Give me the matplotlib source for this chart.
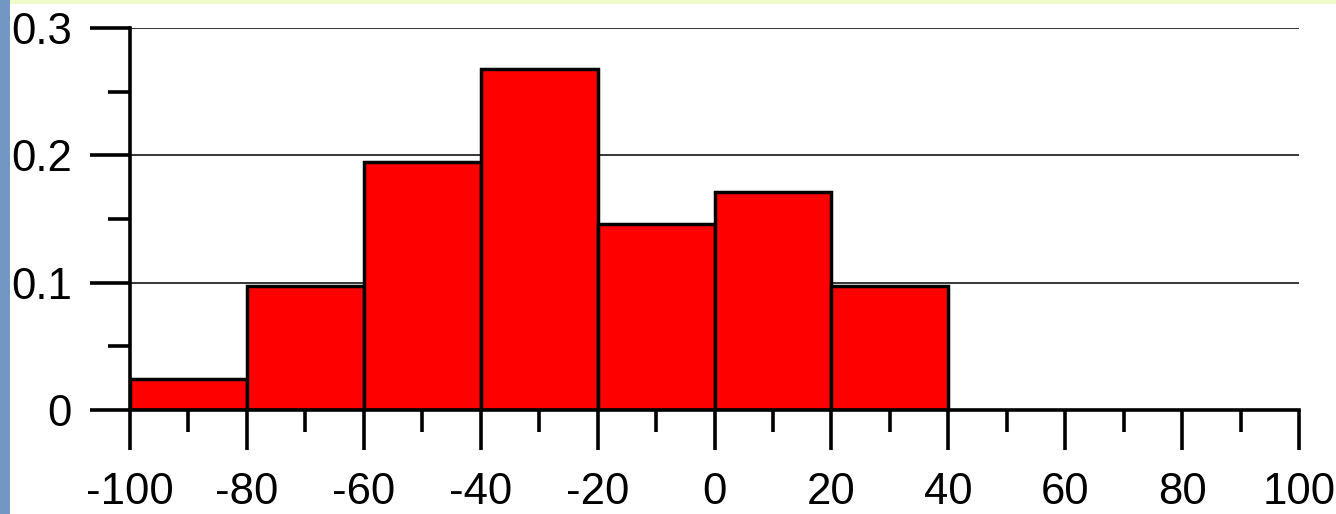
import matplotlib
matplotlib.use("Agg")
import matplotlib.pyplot as plt
from matplotlib.patches import Rectangle
from matplotlib.ticker import MultipleLocator

bin_edges = [-100, -80, -60, -40, -20, 0, 20, 40]
rel_freq = [0.0244, 0.0976, 0.195, 0.268, 0.146, 0.171, 0.0976]
x_ticks = [-100, -80, -60, -40, -20, 0, 20, 40, 60, 80, 100]
y_ticks = [0, 0.1, 0.2, 0.3]
y_tick_labels = ["0", "0.1", "0.2", "0.3"]

plt.rcParams['font.family'] = ['Liberation Sans', 'DejaVu Sans']

W, H = 1336, 514
fig = plt.figure(figsize=(W / 100, H / 100), dpi=100)
fig.patch.set_facecolor("white")

# decorative strips
fig.patches.append(Rectangle((0, 0), 10 / W, 1, transform=fig.transFigure,
                             facecolor="#7297c2", edgecolor="none", zorder=0))
fig.patches.append(Rectangle((10 / W, 1 - 4 / H), 1, 4 / H, transform=fig.transFigure,
                             facecolor="#eefbc8", edgecolor="none", zorder=0))

ax = fig.add_axes([130 / W, 104 / H, (1299 - 130) / W, (410 - 28) / H])
ax.set_xlim(-100, 100)
ax.set_ylim(0, 0.3)

lefts = bin_edges[:-1]
widths = [bin_edges[i + 1] - bin_edges[i] for i in range(len(lefts))]
ax.bar(lefts, rel_freq, width=widths, align="edge", color="#ff0000",
       edgecolor="black", linewidth=2.5, zorder=3)

for yv in y_ticks[1:]:
    ax.axhline(yv, color="black", linewidth=1.1, zorder=1)

for s in ["top", "right"]:
    ax.spines[s].set_visible(False)
for s in ["left", "bottom"]:
    ax.spines[s].set_linewidth(2.6)
    ax.spines[s].set_zorder(4)

ax.set_xticks(x_ticks)
ax.set_xticklabels([str(v) for v in x_ticks])
ax.xaxis.set_minor_locator(MultipleLocator(10))
ax.set_yticks(y_ticks)
ax.set_yticklabels(y_tick_labels)
ax.yaxis.set_minor_locator(MultipleLocator(0.05))

ax.tick_params(axis="both", which="major", length=29, width=2.6, labelsize=31.5,
               direction="out", color="black")
ax.tick_params(axis="both", which="minor", length=16, width=2.6, direction="out")
ax.tick_params(axis="x", which="major", pad=16)
ax.tick_params(axis="y", which="major", pad=13)

fig.savefig("out.png", dpi=100, facecolor="white")
